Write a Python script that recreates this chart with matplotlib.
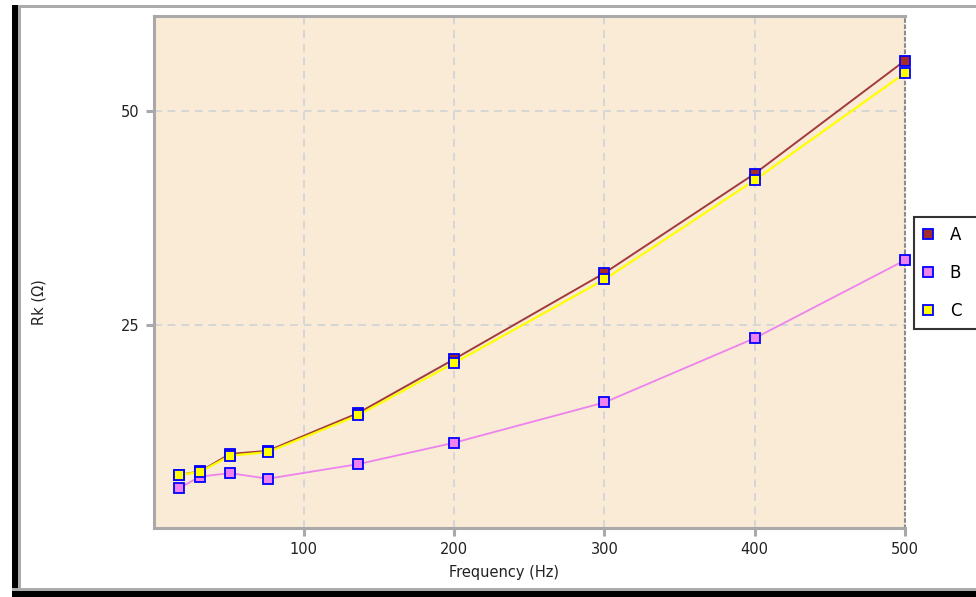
import matplotlib
matplotlib.use("Agg")
import matplotlib.pyplot as plt
from matplotlib.patches import Rectangle
from matplotlib.lines import Line2D

# Measured winding resistance versus frequency
freq = [17, 31, 51, 76, 136, 200, 300, 400, 500]
rk_a = [7.55, 7.95, 10.0, 10.35, 14.75, 21.05, 31.1, 42.7, 55.9]
rk_b = [6.0, 7.35, 7.75, 7.1, 8.8, 11.3, 16.0, 23.5, 32.6]
rk_c = [7.55, 7.9, 9.8, 10.2, 14.5, 20.6, 30.35, 41.95, 54.45]
series_names = ["A", "B", "C"]
x_ticks = [100, 200, 300, 400, 500]
y_ticks = [25, 50]

W, H = 976, 597
fig = plt.figure(figsize=(W / 100, H / 100), dpi=100)
fig.patch.set_facecolor("white")


def px_rect(x0, y0, x1, y1, color):
    fig.patches.append(Rectangle((x0 / W, 1 - y1 / H), (x1 - x0) / W, (y1 - y0) / H,
                                 transform=fig.transFigure, facecolor=color,
                                 edgecolor="none", zorder=0))


# window frame
px_rect(12, 5, W, 8, "#ababab")
px_rect(12, 5, 18, H, "black")
px_rect(18, 8, 21, 588, "#ababab")
px_rect(12, 588, W, 591, "#ababab")
px_rect(12, 591, W, H, "black")

left, right, top, bottom = 153.5, 905, 16, 528
ax = fig.add_axes([left / W, 1 - bottom / H, (right - left) / W, (bottom - top) / H])
ax.set_facecolor("#FAEBD7")
ax.set_xlim(0, 500)
ax.set_ylim(1.35, 61.1)

for s in ["left", "top", "bottom"]:
    ax.spines[s].set_color("#a9a9a9")
    ax.spines[s].set_linewidth(2.2)
ax.spines["right"].set_color("#8c8c8c")
ax.spines["right"].set_linewidth(1.5)
ax.spines["right"].set_linestyle((0, (1.2, 1.8)))

ax.set_xticks(x_ticks)
ax.set_yticks(y_ticks)
ax.tick_params(axis="both", direction="out", length=6, width=2.2, color="#a9a9a9",
               labelsize=10.5, labelcolor="#222222", pad=4)
for v in x_ticks[:-1]:
    ax.axvline(v, color="#d6d6d6", lw=1.4, ls=(0, (4, 3)), zorder=1)
for v in y_ticks:
    ax.axhline(v, color="#d6d6d6", lw=1.4, ls=(0, (4, 3)), zorder=1)

mk = dict(marker="s", markersize=6.5, markeredgewidth=1.3, markeredgecolor="#0000ff")
ax.plot(freq, rk_a, color="#a33a3a", lw=1.4, markerfacecolor="#a52a2a", zorder=3, clip_on=False, **mk)
ax.plot(freq, rk_b, color="#ee82ee", lw=1.3, markerfacecolor="#ee82ee", zorder=4, clip_on=False, **mk)
ax.plot(freq, rk_c, color="#ffff00", lw=1.6, markerfacecolor="#ffff00", zorder=5, clip_on=False, **mk)

fig.text(504 / W, 1 - 572 / H, "Frequency (Hz)", ha="center", va="center",
         fontsize=10.5, color="#222222")
fig.text(39 / W, 1 - 302 / H, "Rk (Ω)", ha="center", va="center", rotation=90,
         fontsize=10.5, color="#222222")

handles = [Line2D([], [], ls="none", markerfacecolor=c, **mk)
           for c in ["#a52a2a", "#ee82ee", "#ffff00"]]
leg = fig.legend(handles, series_names, loc="upper left",
                 bbox_to_anchor=(914 / W, 1 - 329 / H, 90 / W, 112 / H),
                 mode="expand", fontsize=12, frameon=True, fancybox=False,
                 borderpad=0.55, labelspacing=1.2, handlelength=0.6,
                 handletextpad=1.0, borderaxespad=0)
leg.get_frame().set_edgecolor("black")
leg.get_frame().set_linewidth(1.5)

fig.savefig("out.png", dpi=100)
